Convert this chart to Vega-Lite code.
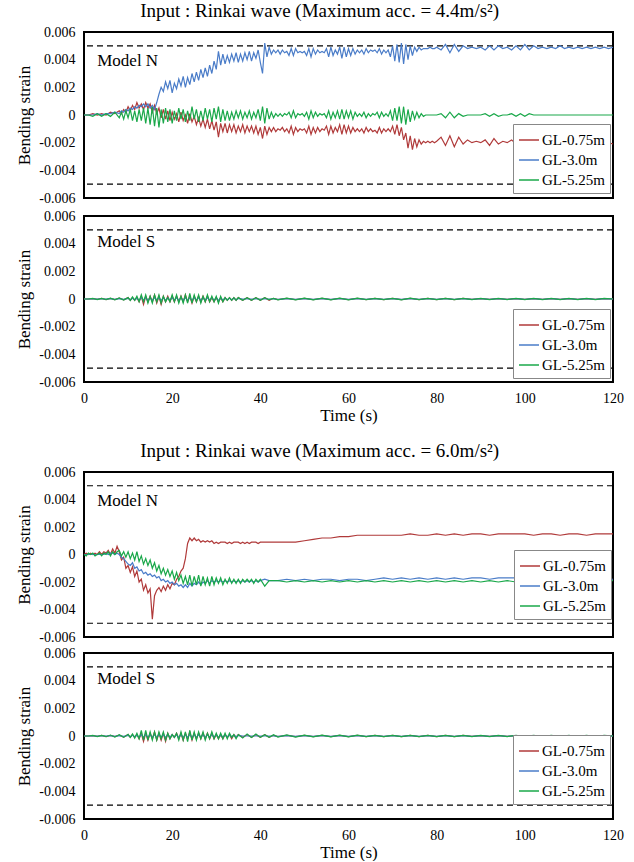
{
"$schema":"https://vega.github.io/schema/vega-lite/v6.json",
"padding":{"left":14,"top":2,"right":19,"bottom":0},
"background":"white",
"datasets":{
"p1":[
{"t":0,"a":0,"b":0,"c":0},{"t":1,"a":0,"b":0,"c":0},{"t":2,"a":0.0001,"b":0,"c":-0.0001},{"t":3,"a":0,"b":0.0001,"c":0.0001},{"t":4,"a":0.0001,"b":0,"c":-0.0001},{"t":5,"a":0,"b":0.0001,"c":0.0001},{"t":6,"a":0.0002,"b":0.0001,"c":-0.0001},{"t":7,"a":0.0001,"b":0.0002,"c":0.0002},{"t":8,"a":0.0003,"b":0.0001,"c":-0.0002},
{"t":8.5,"a":0.0001,"b":0.0003,"c":0.0002},{"t":9,"a":0.0004,"b":0.0002,"c":-0.0003},{"t":9.5,"a":0.0002,"b":0.0004,"c":0.0003},{"t":10,"a":0.0006,"b":0.0003,"c":-0.0002},{"t":10.5,"a":0.0003,"b":0.0005,"c":0.0004},{"t":11,"a":0.0007,"b":0.0004,"c":-0.0004},{"t":11.5,"a":0.0004,"b":0.0006,"c":0.0003},{"t":12,"a":0.0009,"b":0.0005,"c":-0.0005},{"t":12.5,"a":0.0005,"b":0.0007,"c":0.0004},{"t":13,"a":0.0008,"b":0.0006,"c":-0.0004},{"t":13.5,"a":0.0004,"b":0.0008,"c":0.0005},{"t":14,"a":0.0009,"b":0.0006,"c":-0.0006},{"t":14.5,"a":0.0005,"b":0.0008,"c":0.0005},{"t":15,"a":0.0008,"b":0.0005,"c":-0.0007},{"t":15.5,"a":0.0002,"b":0.0007,"c":0.0006},{"t":16,"a":0.0007,"b":0.0004,"c":-0.0008},{"t":16.5,"a":0.0001,"b":0.0009,"c":0.0005},{"t":17,"a":0.0005,"b":0.0015,"c":-0.0009},{"t":17.5,"a":-0.0002,"b":0.002,"c":0.0004},{"t":18,"a":0.0004,"b":0.0017,"c":-0.0006},{"t":18.5,"a":-0.0003,"b":0.0024,"c":0.0005},{"t":19,"a":0.0003,"b":0.0019,"c":-0.0005},{"t":19.5,"a":-0.0004,"b":0.0025,"c":0.0004},{"t":20,"a":0.0002,"b":0.0016,"c":-0.0006},{"t":20.5,"a":-0.0003,"b":0.0023,"c":0.0003},{"t":21,"a":0.0001,"b":0.0019,"c":-0.0004},{"t":21.5,"a":-0.0005,"b":0.0026,"c":0.0005},{"t":22,"a":0.0002,"b":0.0021,"c":-0.0003},{"t":22.5,"a":-0.0004,"b":0.0028,"c":0.0004},{"t":23,"a":0,"b":0.002,"c":-0.0005},{"t":23.5,"a":-0.0006,"b":0.0027,"c":0.0003},{"t":24,"a":0.0001,"b":0.0022,"c":-0.0004},{"t":24.5,"a":-0.0005,"b":0.003,"c":0.0006},{"t":25,"a":-0.0001,"b":0.0024,"c":-0.0003},{"t":25.5,"a":-0.0007,"b":0.0031,"c":0.0004},{"t":26,"a":-0.0002,"b":0.0025,"c":-0.0005},{"t":26.5,"a":-0.0008,"b":0.0033,"c":0.0003},{"t":27,"a":-0.0003,"b":0.0027,"c":-0.0004},{"t":27.5,"a":-0.0009,"b":0.0034,"c":0.0005},{"t":28,"a":-0.0003,"b":0.0028,"c":-0.0003},{"t":28.5,"a":-0.001,"b":0.0036,"c":0.0004},{"t":29,"a":-0.0004,"b":0.003,"c":-0.0005},{"t":29.5,"a":-0.0011,"b":0.0039,"c":0.0005},{"t":30,"a":-0.0005,"b":0.0033,"c":-0.0003},{"t":30.5,"a":-0.0016,"b":0.0046,"c":0.0006},{"t":31,"a":-0.0006,"b":0.0036,"c":-0.0005},{"t":31.5,"a":-0.0012,"b":0.0044,"c":0.0004},{"t":32,"a":-0.0006,"b":0.0037,"c":-0.0004},{"t":32.5,"a":-0.0013,"b":0.0043,"c":0.0003},{"t":33,"a":-0.0007,"b":0.0038,"c":-0.0004},{"t":33.5,"a":-0.0012,"b":0.0044,"c":0.0002},{"t":34,"a":-0.0007,"b":0.0039,"c":-0.0003},{"t":34.5,"a":-0.0013,"b":0.0045,"c":0.0003},{"t":35,"a":-0.0008,"b":0.0038,"c":-0.0002},{"t":35.5,"a":-0.0012,"b":0.0044,"c":0.0003},{"t":36,"a":-0.0007,"b":0.0039,"c":-0.0003},{"t":36.5,"a":-0.0013,"b":0.0045,"c":0.0002},{"t":37,"a":-0.0008,"b":0.004,"c":-0.0002},{"t":37.5,"a":-0.0012,"b":0.0046,"c":0.0003},{"t":38,"a":-0.0008,"b":0.0039,"c":-0.0003},{"t":38.5,"a":-0.0013,"b":0.0045,"c":0.0002},{"t":39,"a":-0.0008,"b":0.0041,"c":-0.0002},{"t":39.5,"a":-0.0014,"b":0.0047,"c":0.0004},{"t":40,"a":-0.0009,"b":0.0038,"c":-0.0004},{"t":40.5,"a":-0.0017,"b":0.003,"c":0.0006},{"t":41,"a":-0.0008,"b":0.0052,"c":-0.0006},{"t":41.5,"a":-0.0014,"b":0.0042,"c":0.0005},{"t":42,"a":-0.0009,"b":0.0049,"c":-0.0003},{"t":42.5,"a":-0.0012,"b":0.0044,"c":0.0002},{"t":43,"a":-0.0009,"b":0.0047,"c":-0.0002},{"t":43.5,"a":-0.0012,"b":0.0045,"c":0.0001},{"t":44,"a":-0.001,"b":0.0047,"c":-0.0001},{"t":44.5,"a":-0.0011,"b":0.0044,"c":0.0001},{"t":45,"a":-0.0009,"b":0.0047,"c":-0.0001},{"t":45.5,"a":-0.0012,"b":0.0045,"c":0.0001},{"t":46,"a":-0.001,"b":0.0046,"c":0},{"t":46.5,"a":-0.0013,"b":0.0043,"c":0.0002},{"t":47,"a":-0.0008,"b":0.0048,"c":-0.0002},{"t":47.5,"a":-0.0014,"b":0.0043,"c":0.0003},{"t":48,"a":-0.0009,"b":0.0048,"c":-0.0002},{"t":48.5,"a":-0.0012,"b":0.0045,"c":0.0001},{"t":49,"a":-0.001,"b":0.0046,"c":0},{"t":49.5,"a":-0.0011,"b":0.0045,"c":0.0001},{"t":50,"a":-0.001,"b":0.0046,"c":-0.0001},{"t":50.5,"a":-0.0013,"b":0.0043,"c":0.0002},{"t":51,"a":-0.0008,"b":0.0048,"c":-0.0003},{"t":51.5,"a":-0.0014,"b":0.0042,"c":0.0003},{"t":52,"a":-0.0009,"b":0.0048,"c":-0.0002},{"t":52.5,"a":-0.0013,"b":0.0044,"c":0.0002},{"t":53,"a":-0.0009,"b":0.0047,"c":-0.0001},{"t":53.5,"a":-0.0012,"b":0.0045,"c":0.0001},{"t":54,"a":-0.001,"b":0.0046,"c":0},{"t":54.5,"a":-0.0011,"b":0.0045,"c":0.0001},{"t":55,"a":-0.0008,"b":0.0048,"c":-0.0002},{"t":55.5,"a":-0.0014,"b":0.0042,"c":0.0003},{"t":56,"a":-0.0008,"b":0.0049,"c":-0.0003},{"t":56.5,"a":-0.0013,"b":0.0043,"c":0.0002},{"t":57,"a":-0.0009,"b":0.0047,"c":-0.0002},{"t":57.5,"a":-0.0012,"b":0.0044,"c":0.0003},{"t":58,"a":-0.0007,"b":0.0049,"c":-0.0003},{"t":58.5,"a":-0.0014,"b":0.0041,"c":0.0004},{"t":59,"a":-0.0007,"b":0.0049,"c":-0.0003},{"t":59.5,"a":-0.0013,"b":0.0042,"c":0.0003},{"t":60,"a":-0.0008,"b":0.0048,"c":-0.0002},{"t":60.5,"a":-0.0013,"b":0.0043,"c":0.0003},{"t":61,"a":-0.0009,"b":0.0048,"c":-0.0003},{"t":61.5,"a":-0.0012,"b":0.0044,"c":0.0002},{"t":62,"a":-0.001,"b":0.0047,"c":-0.0001},{"t":62.5,"a":-0.0012,"b":0.0045,"c":0.0001},{"t":63,"a":-0.001,"b":0.0047,"c":-0.0001},{"t":63.5,"a":-0.0013,"b":0.0044,"c":0.0002},{"t":64,"a":-0.0009,"b":0.0048,"c":-0.0002},{"t":64.5,"a":-0.0012,"b":0.0045,"c":0.0001},{"t":65,"a":-0.001,"b":0.0047,"c":-0.0001},{"t":65.5,"a":-0.0012,"b":0.0046,"c":0.0001},{"t":66,"a":-0.0011,"b":0.0047,"c":0},{"t":66.5,"a":-0.0013,"b":0.0045,"c":0.0002},{"t":67,"a":-0.0009,"b":0.0048,"c":-0.0002},{"t":67.5,"a":-0.0013,"b":0.0044,"c":0.0002},{"t":68,"a":-0.001,"b":0.0047,"c":-0.0001},{"t":68.5,"a":-0.0012,"b":0.0045,"c":0.0001},{"t":69,"a":-0.001,"b":0.0047,"c":-0.0001},{"t":69.5,"a":-0.0012,"b":0.0042,"c":0.0003},{"t":70,"a":-0.0008,"b":0.005,"c":-0.0004},{"t":70.5,"a":-0.0014,"b":0.0039,"c":0.0005},{"t":71,"a":-0.0007,"b":0.0051,"c":-0.0004},{"t":71.5,"a":-0.0015,"b":0.0038,"c":0.0006},{"t":72,"a":-0.0009,"b":0.0052,"c":-0.0006},{"t":72.5,"a":-0.0018,"b":0.0037,"c":0.0006},{"t":73,"a":-0.0013,"b":0.0051,"c":-0.0007},{"t":73.5,"a":-0.0024,"b":0.004,"c":0.0004},{"t":74,"a":-0.0015,"b":0.005,"c":-0.0005},{"t":74.5,"a":-0.0025,"b":0.0043,"c":0.0003},{"t":75,"a":-0.0017,"b":0.0049,"c":-0.0003},{"t":75.5,"a":-0.0023,"b":0.0046,"c":0.0002},{"t":76,"a":-0.0018,"b":0.0049,"c":-0.0002},{"t":76.5,"a":-0.0021,"b":0.0047,"c":0.0001},{"t":77,"a":-0.0019,"b":0.0048,"c":-0.0001},{"t":77.5,"a":-0.002,"b":0.0048,"c":0},{"t":78,"a":-0.0019,"b":0.0048,"c":0},{"t":78.5,"a":-0.002,"b":0.0049,"c":0},{"t":79,"a":-0.0019,"b":0.0048,"c":0},{"t":79.5,"a":-0.002,"b":0.0048,"c":0},{"t":80,"a":-0.0019,"b":0.0049,"c":0},
{"t":81,"a":-0.0016,"b":0.0047,"c":0.0001},{"t":82,"a":-0.0022,"b":0.0051,"c":-0.0002},{"t":83,"a":-0.0015,"b":0.0045,"c":0.0002},{"t":84,"a":-0.0023,"b":0.0051,"c":-0.0002},{"t":85,"a":-0.0016,"b":0.0046,"c":0.0001},{"t":86,"a":-0.0021,"b":0.005,"c":-0.0001},{"t":87,"a":-0.0018,"b":0.0048,"c":0},{"t":88,"a":-0.002,"b":0.0049,"c":0},{"t":89,"a":-0.0019,"b":0.0048,"c":0},{"t":90,"a":-0.002,"b":0.0049,"c":0},{"t":91,"a":-0.0018,"b":0.0047,"c":0.0001},{"t":92,"a":-0.0022,"b":0.005,"c":-0.0001},{"t":93,"a":-0.0017,"b":0.0047,"c":0.0001},{"t":94,"a":-0.0021,"b":0.005,"c":-0.0001},{"t":95,"a":-0.0019,"b":0.0048,"c":0},{"t":96,"a":-0.002,"b":0.0049,"c":0},{"t":97,"a":-0.0018,"b":0.0047,"c":0.0001},{"t":98,"a":-0.0021,"b":0.005,"c":-0.0001},{"t":99,"a":-0.0018,"b":0.0047,"c":0.0001},{"t":100,"a":-0.0021,"b":0.0051,"c":-0.0001},{"t":101,"a":-0.0018,"b":0.0047,"c":0.0001},{"t":102,"a":-0.0021,"b":0.005,"c":0},{"t":103,"a":-0.0019,"b":0.0048,"c":0},{"t":104,"a":-0.002,"b":0.0049,"c":0},{"t":105,"a":-0.0019,"b":0.0048,"c":0},{"t":106,"a":-0.0021,"b":0.0049,"c":0},{"t":107,"a":-0.0019,"b":0.0048,"c":0},{"t":108,"a":-0.002,"b":0.005,"c":0},{"t":109,"a":-0.0019,"b":0.0048,"c":0},{"t":110,"a":-0.0021,"b":0.0049,"c":0},{"t":111,"a":-0.0019,"b":0.0048,"c":0},{"t":112,"a":-0.002,"b":0.0049,"c":0},{"t":113,"a":-0.002,"b":0.0048,"c":0},{"t":114,"a":-0.0021,"b":0.0049,"c":0},{"t":115,"a":-0.002,"b":0.0048,"c":0},{"t":116,"a":-0.0021,"b":0.0049,"c":0},{"t":117,"a":-0.002,"b":0.0048,"c":0},{"t":118,"a":-0.0021,"b":0.0049,"c":0},{"t":119,"a":-0.002,"b":0.0048,"c":0},{"t":120,"a":-0.0021,"b":0.0049,"c":0}
],
"p2":[
{"t":0,"a":0,"b":0,"c":0},{"t":1,"a":0,"b":0,"c":0},{"t":2,"a":0.00003,"b":0,"c":0.00004},{"t":3,"a":-0.00003,"b":0,"c":-0.00004},{"t":4,"a":0.00004,"b":0,"c":0.00005},{"t":5,"a":-0.00004,"b":0,"c":-0.00005},{"t":6,"a":0.00005,"b":0.00002,"c":0.00006},{"t":7,"a":-0.00005,"b":-0.00002,"c":-0.00006},{"t":8,"a":0.00006,"b":0.00002,"c":0.00008},{"t":9,"a":-0.00006,"b":-0.00002,"c":-0.00008},
{"t":10,"a":0.0001,"b":0.00005,"c":0.0001},{"t":10.5,"a":-0.0001,"b":-0.00005,"c":-0.0001},{"t":11,"a":0.0001,"b":0.00005,"c":0.00015},{"t":11.5,"a":-0.0001,"b":-0.00005,"c":-0.0001},{"t":12,"a":0.0001,"b":0.00005,"c":0.0002},{"t":12.5,"a":-0.0002,"b":-0.0001,"c":-0.0002},{"t":13,"a":0.0002,"b":0.0001,"c":0.0003},{"t":13.5,"a":-0.0004,"b":-0.0001,"c":-0.0002},{"t":14,"a":0.0002,"b":0.0001,"c":0.0003},{"t":14.5,"a":-0.0002,"b":-0.0001,"c":-0.0003},{"t":15,"a":0.0002,"b":0.0001,"c":0.0002},{"t":15.5,"a":-0.0002,"b":-0.0001,"c":-0.0003},{"t":16,"a":0.0003,"b":0.0001,"c":0.0003},{"t":16.5,"a":-0.0003,"b":-0.0001,"c":-0.0002},{"t":17,"a":0.0002,"b":0.0001,"c":0.0003},{"t":17.5,"a":-0.0004,"b":-0.0001,"c":-0.0003},{"t":18,"a":0.0002,"b":0.0001,"c":0.0002},{"t":18.5,"a":-0.0002,"b":-0.0001,"c":-0.0002},{"t":19,"a":0.0002,"b":0.0001,"c":0.0001},{"t":19.5,"a":-0.0002,"b":-0.0001,"c":-0.0002},{"t":20,"a":0.0002,"b":0.0001,"c":0.0003},{"t":20.5,"a":-0.0002,"b":-0.0001,"c":-0.0002},{"t":21,"a":0.0002,"b":0.0001,"c":0.0003},{"t":21.5,"a":-0.0002,"b":-0.0001,"c":-0.0003},{"t":22,"a":0.0002,"b":0.0001,"c":0.0002},{"t":22.5,"a":-0.0002,"b":-0.0001,"c":-0.0003},{"t":23,"a":0.0003,"b":0.0001,"c":0.0003},{"t":23.5,"a":-0.0002,"b":-0.0001,"c":-0.0003},{"t":24,"a":0.0002,"b":0.0001,"c":0.0004},{"t":24.5,"a":-0.0003,"b":-0.0001,"c":-0.0003},{"t":25,"a":0.0002,"b":0.0001,"c":0.0003},{"t":25.5,"a":-0.0002,"b":-0.0001,"c":-0.0002},{"t":26,"a":0.0002,"b":0.0001,"c":0.0003},{"t":26.5,"a":-0.0002,"b":-0.0001,"c":-0.0003},{"t":27,"a":0.0002,"b":0.0001,"c":0.0002},{"t":27.5,"a":-0.0002,"b":-0.0001,"c":-0.0002},{"t":28,"a":0.0002,"b":0.0001,"c":0.0003},{"t":28.5,"a":-0.0002,"b":-0.0001,"c":-0.0002},{"t":29,"a":0.0001,"b":0.0001,"c":0.0002},{"t":29.5,"a":-0.0002,"b":-0.0001,"c":-0.0002},{"t":30,"a":0.0001,"b":0.0001,"c":0.0002},{"t":30.5,"a":-0.0002,"b":-0.0001,"c":-0.0003},{"t":31,"a":0.0001,"b":0.00005,"c":0.0002},{"t":31.5,"a":-0.0002,"b":-0.00005,"c":-0.0002},{"t":32,"a":0.0001,"b":0.00005,"c":0.0001},{"t":32.5,"a":-0.0001,"b":-0.00005,"c":-0.0001},{"t":33,"a":0.0001,"b":0.00005,"c":0.0001},{"t":33.5,"a":-0.0001,"b":-0.00005,"c":-0.0001},{"t":34,"a":0.0001,"b":0.00005,"c":0.0001},{"t":34.5,"a":-0.0001,"b":-0.00005,"c":-0.0001},{"t":35,"a":0.0001,"b":0.00005,"c":0.0001},
{"t":36,"a":-0.0001,"b":0,"c":-0.0001},{"t":37,"a":0.0001,"b":0,"c":0.0001},{"t":38,"a":-0.0001,"b":0,"c":-0.0001},{"t":39,"a":0.0001,"b":0,"c":0.0001},{"t":40,"a":-0.0001,"b":0,"c":-0.0001},{"t":41,"a":0.0001,"b":0,"c":0.0001},{"t":42,"a":-0.0001,"b":0,"c":-0.00005},{"t":43,"a":0.00005,"b":0,"c":0.00005},
{"t":44,"a":-0.00005,"b":-0.00002,"c":-0.00006},{"t":46,"a":0.00005,"b":0.00002,"c":0.00006},{"t":48,"a":-0.00005,"b":-0.00002,"c":-0.00006},{"t":50,"a":0.00005,"b":0.00002,"c":0.00006},{"t":52,"a":-0.00005,"b":-0.00002,"c":-0.00006},{"t":54,"a":0.00005,"b":0.00002,"c":0.00006},{"t":56,"a":-0.00005,"b":-0.00002,"c":-0.00006},{"t":58,"a":0.00005,"b":0.00002,"c":0.00006},{"t":60,"a":-0.00005,"b":-0.00002,"c":-0.00006},{"t":62,"a":0.00005,"b":0.00002,"c":0.00006},{"t":64,"a":-0.00004,"b":-0.00002,"c":-0.00005},{"t":66,"a":0.00004,"b":0.00002,"c":0.00005},{"t":68,"a":-0.00004,"b":-0.00002,"c":-0.00005},{"t":70,"a":0.00004,"b":0.00002,"c":0.00005},{"t":72,"a":-0.00005,"b":-0.00002,"c":-0.00006},{"t":74,"a":0.00005,"b":0.00002,"c":0.00006},{"t":76,"a":-0.00004,"b":-0.00002,"c":-0.00005},{"t":78,"a":0.00004,"b":0.00002,"c":0.00005},{"t":80,"a":-0.00004,"b":-0.00002,"c":-0.00005},{"t":82,"a":0.00004,"b":0.00002,"c":0.00005},{"t":84,"a":-0.00004,"b":-0.00002,"c":-0.00005},{"t":86,"a":0.00004,"b":0.00002,"c":0.00005},{"t":88,"a":-0.00003,"b":-0.00002,"c":-0.00004},{"t":90,"a":0.00003,"b":0.00002,"c":0.00004},{"t":92,"a":-0.00003,"b":-0.00002,"c":-0.00004},{"t":94,"a":0.00003,"b":0.00002,"c":0.00004},{"t":96,"a":-0.00003,"b":-0.00002,"c":-0.00004},{"t":98,"a":0.00003,"b":0.00002,"c":0.00004},{"t":100,"a":-0.00003,"b":-0.00002,"c":-0.00004},{"t":102,"a":0.00003,"b":0.00002,"c":0.00004},{"t":104,"a":-0.00003,"b":-0.00002,"c":-0.00004},{"t":106,"a":0.00003,"b":0.00002,"c":0.00004},{"t":108,"a":-0.00003,"b":-0.00002,"c":-0.00004},{"t":110,"a":0.00003,"b":0.00002,"c":0.00004},{"t":112,"a":-0.00003,"b":-0.00002,"c":-0.00004},{"t":114,"a":0.00003,"b":0.00002,"c":0.00004},{"t":116,"a":-0.00003,"b":-0.00002,"c":-0.00004},{"t":118,"a":0.00003,"b":0.00002,"c":0.00004},{"t":120,"a":0,"b":0,"c":0}
],
"p3":[
{"t":0,"a":0,"b":0,"c":0},{"t":0.5,"a":0.0001,"b":0,"c":-0.0001},{"t":1,"a":0,"b":0,"c":0.0001},{"t":1.5,"a":0.0001,"b":0,"c":0},{"t":2,"a":0,"b":0,"c":0.0001},{"t":2.5,"a":0.0001,"b":0,"c":-0.0001},{"t":3,"a":0,"b":0,"c":0},{"t":3.5,"a":0.0002,"b":0,"c":0.0001},{"t":4,"a":0,"b":0,"c":-0.0001},{"t":4.5,"a":0.0002,"b":0,"c":0.0001},{"t":5,"a":0.0001,"b":0.0001,"c":0},{"t":5.5,"a":0.0003,"b":0,"c":0.0002},{"t":6,"a":0,"b":0.0001,"c":-0.0001},{"t":6.5,"a":0.0004,"b":0.0001,"c":0.0002},{"t":7,"a":0.0001,"b":0,"c":0},{"t":7.5,"a":0.0006,"b":0.0001,"c":0.0002},{"t":8,"a":0.0002,"b":0,"c":0.0003},{"t":8.5,"a":-0.0004,"b":-0.0002,"c":-0.0001},{"t":9,"a":-0.0002,"b":-0.0003,"c":0.0002},{"t":9.5,"a":-0.001,"b":-0.0005,"c":-0.0002},{"t":10,"a":-0.0008,"b":-0.0007,"c":0.0002},{"t":10.5,"a":-0.0013,"b":-0.0008,"c":-0.0003},{"t":11,"a":-0.0009,"b":-0.0006,"c":0.0001},{"t":11.5,"a":-0.0016,"b":-0.001,"c":-0.0004},{"t":12,"a":-0.0012,"b":-0.0009,"c":0.0002},{"t":12.5,"a":-0.002,"b":-0.0012,"c":-0.0005},{"t":13,"a":-0.0018,"b":-0.0011,"c":-0.0001},{"t":13.5,"a":-0.0026,"b":-0.0014,"c":-0.0007},{"t":14,"a":-0.0022,"b":-0.0013,"c":-0.0003},{"t":14.5,"a":-0.0028,"b":-0.0015,"c":-0.0008},{"t":15,"a":-0.0025,"b":-0.0014,"c":-0.0004},{"t":15.5,"a":-0.0047,"b":-0.0016,"c":-0.001},{"t":16,"a":-0.003,"b":-0.0015,"c":-0.0006},{"t":16.5,"a":-0.0026,"b":-0.0017,"c":-0.0012},{"t":17,"a":-0.0024,"b":-0.0016,"c":-0.0008},{"t":17.5,"a":-0.0027,"b":-0.0019,"c":-0.0014},{"t":18,"a":-0.0023,"b":-0.0018,"c":-0.001},{"t":18.5,"a":-0.0026,"b":-0.002,"c":-0.0015},{"t":19,"a":-0.0022,"b":-0.0019,"c":-0.0011},{"t":19.5,"a":-0.0025,"b":-0.0021,"c":-0.0016},{"t":20,"a":-0.0021,"b":-0.002,"c":-0.0012},{"t":20.5,"a":-0.0022,"b":-0.0022,"c":-0.0018},{"t":21,"a":-0.0018,"b":-0.0021,"c":-0.0013},{"t":21.5,"a":-0.0016,"b":-0.0023,"c":-0.0019},{"t":22,"a":-0.0012,"b":-0.0022,"c":-0.0015},{"t":22.5,"a":-0.001,"b":-0.0024,"c":-0.0021},{"t":23,"a":-0.0003,"b":-0.0022,"c":-0.0016},{"t":23.5,"a":0.0008,"b":-0.0024,"c":-0.0022},{"t":24,"a":0.0012,"b":-0.0021,"c":-0.0015},{"t":24.5,"a":0.001,"b":-0.0023,"c":-0.0023},{"t":25,"a":0.0012,"b":-0.0021,"c":-0.0016},{"t":25.5,"a":0.001,"b":-0.0022,"c":-0.0022},{"t":26,"a":0.0011,"b":-0.002,"c":-0.0015},{"t":26.5,"a":0.0009,"b":-0.0022,"c":-0.0023},{"t":27,"a":0.001,"b":-0.002,"c":-0.0016},{"t":27.5,"a":0.0009,"b":-0.0021,"c":-0.0022},{"t":28,"a":0.001,"b":-0.0019,"c":-0.0017},{"t":28.5,"a":0.0009,"b":-0.0021,"c":-0.0023},{"t":29,"a":0.001,"b":-0.0019,"c":-0.0016},{"t":29.5,"a":0.0008,"b":-0.002,"c":-0.0022},{"t":30,"a":0.0009,"b":-0.0019,"c":-0.0017},{"t":30.5,"a":0.0008,"b":-0.002,"c":-0.0021},{"t":31,"a":0.0009,"b":-0.0019,"c":-0.0017},{"t":31.5,"a":0.0009,"b":-0.002,"c":-0.0022},{"t":32,"a":0.0009,"b":-0.0019,"c":-0.0018},{"t":32.5,"a":0.0008,"b":-0.002,"c":-0.0021},{"t":33,"a":0.0009,"b":-0.0019,"c":-0.0017},{"t":33.5,"a":0.0008,"b":-0.002,"c":-0.0021},{"t":34,"a":0.0009,"b":-0.0019,"c":-0.0018},{"t":34.5,"a":0.0009,"b":-0.002,"c":-0.0021},{"t":35,"a":0.0009,"b":-0.0019,"c":-0.0018},{"t":35.5,"a":0.0008,"b":-0.002,"c":-0.0021},{"t":36,"a":0.0009,"b":-0.0019,"c":-0.0018},{"t":36.5,"a":0.0008,"b":-0.002,"c":-0.002},{"t":37,"a":0.0009,"b":-0.0019,"c":-0.0018},{"t":37.5,"a":0.0008,"b":-0.002,"c":-0.002},{"t":38,"a":0.0009,"b":-0.0019,"c":-0.0018},{"t":38.5,"a":0.0009,"b":-0.002,"c":-0.0021},{"t":39,"a":0.0009,"b":-0.0019,"c":-0.0018},{"t":39.5,"a":0.0008,"b":-0.002,"c":-0.002},{"t":40,"a":0.0009,"b":-0.0019,"c":-0.0018},
{"t":41,"a":0.0009,"b":-0.0018,"c":-0.0023},{"t":42,"a":0.0009,"b":-0.0019,"c":-0.0019},{"t":44,"a":0.0009,"b":-0.0019,"c":-0.0019},{"t":46,"a":0.0009,"b":-0.0018,"c":-0.002},{"t":48,"a":0.0009,"b":-0.0019,"c":-0.0019},{"t":50,"a":0.001,"b":-0.0018,"c":-0.002},{"t":52,"a":0.0011,"b":-0.0019,"c":-0.0019},{"t":54,"a":0.0012,"b":-0.0018,"c":-0.002},{"t":56,"a":0.0012,"b":-0.0018,"c":-0.0019},{"t":58,"a":0.0013,"b":-0.0019,"c":-0.002},{"t":60,"a":0.0013,"b":-0.0018,"c":-0.0019},{"t":62,"a":0.0014,"b":-0.0018,"c":-0.002},{"t":64,"a":0.0014,"b":-0.0019,"c":-0.0019},{"t":66,"a":0.0014,"b":-0.0018,"c":-0.002},{"t":68,"a":0.0014,"b":-0.0017,"c":-0.0019},{"t":70,"a":0.0014,"b":-0.0018,"c":-0.002},{"t":72,"a":0.0014,"b":-0.0017,"c":-0.0019},{"t":74,"a":0.0015,"b":-0.0018,"c":-0.002},{"t":76,"a":0.0014,"b":-0.0017,"c":-0.0019},{"t":78,"a":0.0014,"b":-0.0018,"c":-0.002},{"t":80,"a":0.0015,"b":-0.0017,"c":-0.0019},{"t":82,"a":0.0014,"b":-0.0018,"c":-0.002},{"t":84,"a":0.0015,"b":-0.0017,"c":-0.0019},{"t":86,"a":0.0014,"b":-0.0018,"c":-0.002},{"t":88,"a":0.0015,"b":-0.0017,"c":-0.0019},{"t":90,"a":0.0015,"b":-0.0017,"c":-0.002},{"t":92,"a":0.0014,"b":-0.0018,"c":-0.0019},{"t":94,"a":0.0015,"b":-0.0017,"c":-0.002},{"t":96,"a":0.0015,"b":-0.0017,"c":-0.0019},{"t":98,"a":0.0015,"b":-0.0017,"c":-0.002},{"t":100,"a":0.0015,"b":-0.0017,"c":-0.0019},{"t":102,"a":0.0014,"b":-0.0018,"c":-0.002},{"t":104,"a":0.0015,"b":-0.0017,"c":-0.0019},{"t":106,"a":0.0015,"b":-0.0018,"c":-0.002},{"t":108,"a":0.0014,"b":-0.0017,"c":-0.0019},{"t":110,"a":0.0015,"b":-0.0018,"c":-0.002},{"t":112,"a":0.0015,"b":-0.0017,"c":-0.0019},{"t":114,"a":0.0014,"b":-0.0018,"c":-0.002},{"t":116,"a":0.0015,"b":-0.0017,"c":-0.0019},{"t":118,"a":0.0015,"b":-0.0018,"c":-0.0019},{"t":120,"a":0.0015,"b":-0.0018,"c":-0.0019}
],
"p4":[
{"t":0,"a":0,"b":0,"c":0},{"t":1,"a":0,"b":0,"c":0},{"t":2,"a":0.00003,"b":0,"c":0.00004},{"t":3,"a":-0.00003,"b":0,"c":-0.00004},{"t":4,"a":0.00004,"b":0,"c":0.00005},{"t":5,"a":-0.00004,"b":0,"c":-0.00005},{"t":6,"a":0.00005,"b":0.00002,"c":0.00007},{"t":7,"a":-0.00005,"b":-0.00002,"c":-0.00007},{"t":8,"a":0.00006,"b":0.00002,"c":0.00009},{"t":9,"a":-0.00008,"b":-0.00002,"c":-0.0001},
{"t":10,"a":0.0001,"b":0.00005,"c":0.00012},{"t":10.5,"a":-0.0001,"b":-0.00005,"c":-0.0001},{"t":11,"a":0.0001,"b":0.00005,"c":0.00015},{"t":11.5,"a":-0.0001,"b":-0.00005,"c":-0.00015},{"t":12,"a":0.0001,"b":0.00005,"c":0.0002},{"t":12.5,"a":-0.0002,"b":-0.0001,"c":-0.0002},{"t":13,"a":0.0002,"b":0.0001,"c":0.0004},{"t":13.5,"a":-0.0004,"b":-0.0001,"c":-0.0003},{"t":14,"a":0.0002,"b":0.0001,"c":0.0004},{"t":14.5,"a":-0.0003,"b":-0.0001,"c":-0.0003},{"t":15,"a":0.0002,"b":0.0001,"c":0.0003},{"t":15.5,"a":-0.0002,"b":-0.0001,"c":-0.0003},{"t":16,"a":0.0003,"b":0.0001,"c":0.0003},{"t":16.5,"a":-0.0003,"b":-0.0001,"c":-0.0003},{"t":17,"a":0.0002,"b":0.0001,"c":0.0003},{"t":17.5,"a":-0.0003,"b":-0.0001,"c":-0.0002},{"t":18,"a":0.0002,"b":0.0001,"c":0.0003},{"t":18.5,"a":-0.0004,"b":-0.0001,"c":-0.0003},{"t":19,"a":0.0002,"b":0.0001,"c":0.0002},{"t":19.5,"a":-0.0002,"b":-0.0001,"c":-0.0002},{"t":20,"a":0.0001,"b":0.0001,"c":0.0001},{"t":20.5,"a":-0.0001,"b":-0.0001,"c":-0.0001},{"t":21,"a":0.0002,"b":0.0001,"c":0.0002},{"t":21.5,"a":-0.0002,"b":-0.0001,"c":-0.0003},{"t":22,"a":0.0002,"b":0.0001,"c":0.0003},{"t":22.5,"a":-0.0003,"b":-0.0001,"c":-0.0003},{"t":23,"a":0.0002,"b":0.0001,"c":0.0003},{"t":23.5,"a":-0.0002,"b":-0.0001,"c":-0.0004},{"t":24,"a":0.0003,"b":0.0001,"c":0.0004},{"t":24.5,"a":-0.0003,"b":-0.0001,"c":-0.0003},{"t":25,"a":0.0002,"b":0.0001,"c":0.0003},{"t":25.5,"a":-0.0002,"b":-0.0001,"c":-0.0003},{"t":26,"a":0.0002,"b":0.0001,"c":0.0003},{"t":26.5,"a":-0.0002,"b":-0.0001,"c":-0.0002},{"t":27,"a":0.0002,"b":0.0001,"c":0.0003},{"t":27.5,"a":-0.0002,"b":-0.0001,"c":-0.0003},{"t":28,"a":0.0002,"b":0.0001,"c":0.0002},{"t":28.5,"a":-0.0002,"b":-0.0001,"c":-0.0002},{"t":29,"a":0.0002,"b":0.0001,"c":0.0003},{"t":29.5,"a":-0.0002,"b":-0.0001,"c":-0.0002},{"t":30,"a":0.0001,"b":0.0001,"c":0.0002},{"t":30.5,"a":-0.0002,"b":-0.0001,"c":-0.0002},{"t":31,"a":0.0001,"b":0.00005,"c":0.0002},{"t":31.5,"a":-0.0002,"b":-0.00005,"c":-0.0002},{"t":32,"a":0.0001,"b":0.00005,"c":0.0002},{"t":32.5,"a":-0.0001,"b":-0.00005,"c":-0.0002},{"t":33,"a":0.0001,"b":0.00005,"c":0.0002},{"t":33.5,"a":-0.0002,"b":-0.00005,"c":-0.0001},{"t":34,"a":0.0001,"b":0.00005,"c":0.0001},{"t":34.5,"a":-0.0001,"b":-0.00005,"c":-0.0002},{"t":35,"a":0.0001,"b":0.00005,"c":0.0001},
{"t":36,"a":-0.0001,"b":0,"c":-0.00015},{"t":37,"a":0.0001,"b":0,"c":0.00015},{"t":38,"a":-0.0001,"b":0,"c":-0.0001},{"t":39,"a":0.0001,"b":0,"c":0.00015},{"t":40,"a":-0.0001,"b":0,"c":-0.0001},{"t":41,"a":0.0001,"b":0,"c":0.0001},{"t":42,"a":-0.0001,"b":0,"c":-0.0001},{"t":43,"a":0.00005,"b":0,"c":0.0001},
{"t":44,"a":-0.00005,"b":-0.00002,"c":-0.00008},{"t":46,"a":0.00005,"b":0.00002,"c":0.00008},{"t":48,"a":-0.00005,"b":-0.00002,"c":-0.00008},{"t":50,"a":0.00005,"b":0.00002,"c":0.00006},{"t":52,"a":-0.00005,"b":-0.00002,"c":-0.00006},{"t":54,"a":0.00005,"b":0.00002,"c":0.00006},{"t":56,"a":-0.00005,"b":-0.00002,"c":-0.00006},{"t":58,"a":0.00005,"b":0.00002,"c":0.00006},{"t":60,"a":-0.00005,"b":-0.00002,"c":-0.00006},{"t":62,"a":0.00005,"b":0.00002,"c":0.00006},{"t":64,"a":-0.00004,"b":-0.00002,"c":-0.00005},{"t":66,"a":0.00004,"b":0.00002,"c":0.00005},{"t":68,"a":-0.00004,"b":-0.00002,"c":-0.00005},{"t":70,"a":0.00004,"b":0.00002,"c":0.00005},{"t":72,"a":-0.00004,"b":-0.00002,"c":-0.00005},{"t":74,"a":0.00004,"b":0.00002,"c":0.00005},{"t":76,"a":-0.00004,"b":-0.00002,"c":-0.00005},{"t":78,"a":0.00004,"b":0.00002,"c":0.00005},{"t":80,"a":-0.00004,"b":-0.00002,"c":-0.00005},{"t":82,"a":0.00004,"b":0.00002,"c":0.00005},{"t":84,"a":-0.00004,"b":-0.00002,"c":-0.00005},{"t":86,"a":0.00004,"b":0.00002,"c":0.00005},{"t":88,"a":-0.00003,"b":-0.00002,"c":-0.00004},{"t":90,"a":0.00003,"b":0.00002,"c":0.00004},{"t":92,"a":-0.00003,"b":-0.00002,"c":-0.00004},{"t":94,"a":0.00003,"b":0.00002,"c":0.00004},{"t":96,"a":-0.00003,"b":-0.00002,"c":-0.00004},{"t":98,"a":0.00003,"b":0.00002,"c":0.00004},{"t":100,"a":-0.00003,"b":-0.00002,"c":-0.00004},{"t":102,"a":0.00003,"b":0.00002,"c":0.00004},{"t":104,"a":-0.00003,"b":-0.00002,"c":-0.00004},{"t":106,"a":0.00003,"b":0.00002,"c":0.00004},{"t":108,"a":-0.00003,"b":-0.00002,"c":-0.00004},{"t":110,"a":0.00003,"b":0.00002,"c":0.00004},{"t":112,"a":-0.00003,"b":-0.00002,"c":-0.00004},{"t":114,"a":0.00003,"b":0.00002,"c":0.00004},{"t":116,"a":-0.00003,"b":-0.00002,"c":-0.00004},{"t":118,"a":0.00003,"b":0.00002,"c":0.00004},{"t":120,"a":0,"b":0,"c":0}
],
"lim":[{"v":0.005},{"v":-0.005}]
},
"vconcat":[
{"title":{"text":"Input : Rinkai wave (Maximum acc. = 4.4m/s²)","anchor":"middle","offset":3,"font":"Liberation Serif","fontSize":19,"fontWeight":"normal","color":"#000"},
 "spacing":2,
 "resolve":{"legend":{"color":"independent"}},
 "vconcat":[
 {"width":529,"height":166,
  "layer":[
   {"data":{"values":[{}]},"mark":{"type":"text","align":"left","baseline":"middle","fontSize":17,"font":"Liberation Serif"},"encoding":{
     "x":{"datum":3,"type":"quantitative","scale":{"domain":[0,120],"nice":false},"axis":{"values":[20,40,60,80,100],"labels":false,"title":null,"gridColor":{"condition":{"test":"datum.value===60||datum.value===100","value":"#222"},"value":"#c8c8c8"}}},
     "y":{"datum":0.0039,"type":"quantitative","scale":{"domain":[-0.006,0.006],"nice":false},"axis":{"title":"Bending strain","labelOverlap":false,"values":[-0.006,-0.004,-0.002,0,0.002,0.004,0.006],"labelExpr":"datum.value==0?'0':(datum.value<0?'-':'')+format(abs(datum.value),'.3f')","gridColor":{"condition":{"test":"abs(datum.value-0.004)<0.0001","value":"#222"},"value":"#c8c8c8"}}},
     "text":{"value":"Model N"}}},
   {"data":{"name":"lim"},"mark":{"type":"rule","strokeDash":[6,4],"color":"#000","strokeWidth":1.2},"encoding":{
     "y":{"field":"v","type":"quantitative","scale":{"domain":[-0.006,0.006],"nice":false},"axis":{"title":"Bending strain","labelOverlap":false,"values":[-0.006,-0.004,-0.002,0,0.002,0.004,0.006],"labelExpr":"datum.value==0?'0':(datum.value<0?'-':'')+format(abs(datum.value),'.3f')","gridColor":{"condition":{"test":"abs(datum.value-0.004)<0.0001","value":"#222"},"value":"#c8c8c8"}}}}},
   {"data":{"name":"p1"},"transform":[{"fold":["a","b","c"],"as":["k","v"]}],
    "mark":{"type":"line","strokeWidth":1.2},
    "encoding":{
     "x":{"field":"t","type":"quantitative","scale":{"domain":[0,120],"nice":false},"axis":{"values":[20,40,60,80,100],"labels":false,"title":null,"gridColor":{"condition":{"test":"datum.value===60||datum.value===100","value":"#222"},"value":"#c8c8c8"}}},
     "y":{"field":"v","type":"quantitative","scale":{"domain":[-0.006,0.006],"nice":false},"axis":{"title":"Bending strain","labelOverlap":false,"values":[-0.006,-0.004,-0.002,0,0.002,0.004,0.006],"labelExpr":"datum.value==0?'0':(datum.value<0?'-':'')+format(abs(datum.value),'.3f')","gridColor":{"condition":{"test":"abs(datum.value-0.004)<0.0001","value":"#222"},"value":"#c8c8c8"}}},
     "color":{"field":"k","type":"nominal","scale":{"domain":["a","b","c"],"range":["#b03a3a","#4a7cc8","#1aa84a"]},"legend":{"legendX":429,"legendY":92,"labelExpr":"datum.label=='a'?'GL-0.75m':datum.label=='b'?'GL-3.0m':'GL-5.25m'"}}
    }}
  ]},
 {"width":529,"height":166,
  "layer":[
   {"data":{"values":[{}]},"mark":{"type":"text","align":"left","baseline":"middle","fontSize":17,"font":"Liberation Serif"},"encoding":{
     "x":{"datum":3,"type":"quantitative","scale":{"domain":[0,120],"nice":false},"axis":{"values":[0,20,40,60,80,100,120],"title":"Time (s)","labelOverlap":false,"labelFlush":false,"labelPadding":9,"titlePadding":2,"gridColor":{"condition":{"test":"datum.value===20","value":"#222"},"value":"#c8c8c8"}}},
     "y":{"datum":0.0041,"type":"quantitative","scale":{"domain":[-0.006,0.006],"nice":false},"axis":{"title":"Bending strain","labelOverlap":false,"values":[-0.006,-0.004,-0.002,0,0.002,0.004,0.006],"labelExpr":"datum.value==0?'0':(datum.value<0?'-':'')+format(abs(datum.value),'.3f')","gridColor":{"condition":{"test":"datum.value>0.001&&datum.value<0.005","value":"#666"},"value":"#c8c8c8"}}},
     "text":{"value":"Model S"}}},
   {"data":{"name":"lim"},"mark":{"type":"rule","strokeDash":[6,4],"color":"#000","strokeWidth":1.2},"encoding":{
     "y":{"field":"v","type":"quantitative","scale":{"domain":[-0.006,0.006],"nice":false},"axis":{"title":"Bending strain","labelOverlap":false,"values":[-0.006,-0.004,-0.002,0,0.002,0.004,0.006],"labelExpr":"datum.value==0?'0':(datum.value<0?'-':'')+format(abs(datum.value),'.3f')","gridColor":{"condition":{"test":"datum.value>0.001&&datum.value<0.005","value":"#666"},"value":"#c8c8c8"}}}}},
   {"data":{"name":"p2"},"transform":[{"fold":["a","b","c"],"as":["k","v"]}],
    "mark":{"type":"line","strokeWidth":1.2},
    "encoding":{
     "x":{"field":"t","type":"quantitative","scale":{"domain":[0,120],"nice":false},"axis":{"values":[0,20,40,60,80,100,120],"title":"Time (s)","labelOverlap":false,"labelFlush":false,"labelPadding":9,"titlePadding":2,"gridColor":{"condition":{"test":"datum.value===20","value":"#222"},"value":"#c8c8c8"}}},
     "y":{"field":"v","type":"quantitative","scale":{"domain":[-0.006,0.006],"nice":false},"axis":{"title":"Bending strain","labelOverlap":false,"values":[-0.006,-0.004,-0.002,0,0.002,0.004,0.006],"labelExpr":"datum.value==0?'0':(datum.value<0?'-':'')+format(abs(datum.value),'.3f')","gridColor":{"condition":{"test":"datum.value>0.001&&datum.value<0.005","value":"#666"},"value":"#c8c8c8"}}},
     "color":{"field":"k","type":"nominal","scale":{"domain":["a","b","c"],"range":["#b03a3a","#4a7cc8","#1aa84a"]},"legend":{"legendX":429,"legendY":93,"labelExpr":"datum.label=='a'?'GL-0.75m':datum.label=='b'?'GL-3.0m':'GL-5.25m'"}}
    }}
  ]}
 ]},
{"title":{"text":"Input : Rinkai wave (Maximum acc. = 6.0m/s²)","anchor":"middle","offset":3,"font":"Liberation Serif","fontSize":19,"fontWeight":"normal","color":"#000"},
 "spacing":0,
 "resolve":{"legend":{"color":"independent"}},
 "vconcat":[
 {"width":529,"height":165,
  "layer":[
   {"data":{"values":[{}]},"mark":{"type":"text","align":"left","baseline":"middle","fontSize":17,"font":"Liberation Serif"},"encoding":{
     "x":{"datum":3,"type":"quantitative","scale":{"domain":[0,120],"nice":false},"axis":{"values":[20,40,60,80,100],"labels":false,"title":null,"gridColor":{"condition":{"test":"datum.value===60||datum.value===100","value":"#222"},"value":"#c8c8c8"}}},
     "y":{"datum":0.0039,"type":"quantitative","scale":{"domain":[-0.006,0.006],"nice":false},"axis":{"title":"Bending strain","labelOverlap":false,"values":[-0.006,-0.004,-0.002,0,0.002,0.004,0.006],"labelExpr":"datum.value==0?'0':(datum.value<0?'-':'')+format(abs(datum.value),'.3f')","gridColor":{"condition":{"test":"abs(datum.value+0.004)<0.0001","value":"#333"},"value":"#c8c8c8"}}},
     "text":{"value":"Model N"}}},
   {"data":{"name":"lim"},"mark":{"type":"rule","strokeDash":[6,4],"color":"#000","strokeWidth":1.2},"encoding":{
     "y":{"field":"v","type":"quantitative","scale":{"domain":[-0.006,0.006],"nice":false},"axis":{"title":"Bending strain","labelOverlap":false,"values":[-0.006,-0.004,-0.002,0,0.002,0.004,0.006],"labelExpr":"datum.value==0?'0':(datum.value<0?'-':'')+format(abs(datum.value),'.3f')","gridColor":{"condition":{"test":"abs(datum.value+0.004)<0.0001","value":"#333"},"value":"#c8c8c8"}}}}},
   {"data":{"name":"p3"},"transform":[{"fold":["a","b","c"],"as":["k","v"]}],
    "mark":{"type":"line","strokeWidth":1.2},
    "encoding":{
     "x":{"field":"t","type":"quantitative","scale":{"domain":[0,120],"nice":false},"axis":{"values":[20,40,60,80,100],"labels":false,"title":null,"gridColor":{"condition":{"test":"datum.value===60||datum.value===100","value":"#222"},"value":"#c8c8c8"}}},
     "y":{"field":"v","type":"quantitative","scale":{"domain":[-0.006,0.006],"nice":false},"axis":{"title":"Bending strain","labelOverlap":false,"values":[-0.006,-0.004,-0.002,0,0.002,0.004,0.006],"labelExpr":"datum.value==0?'0':(datum.value<0?'-':'')+format(abs(datum.value),'.3f')","gridColor":{"condition":{"test":"abs(datum.value+0.004)<0.0001","value":"#333"},"value":"#c8c8c8"}}},
     "color":{"field":"k","type":"nominal","scale":{"domain":["a","b","c"],"range":["#b03a3a","#4a7cc8","#1aa84a"]},"legend":{"legendX":430,"legendY":78,"labelExpr":"datum.label=='a'?'GL-0.75m':datum.label=='b'?'GL-3.0m':'GL-5.25m'"}}
    }}
  ]},
 {"width":529,"height":166,
  "layer":[
   {"data":{"values":[{}]},"mark":{"type":"text","align":"left","baseline":"middle","fontSize":17,"font":"Liberation Serif"},"encoding":{
     "x":{"datum":3,"type":"quantitative","scale":{"domain":[0,120],"nice":false},"axis":{"values":[0,20,40,60,80,100,120],"title":"Time (s)","labelOverlap":false,"labelFlush":false,"labelPadding":9,"titlePadding":2,"gridColor":{"condition":{"test":"datum.value===20","value":"#222"},"value":"#c8c8c8"}}},
     "y":{"datum":0.0041,"type":"quantitative","scale":{"domain":[-0.006,0.006],"nice":false},"axis":{"title":"Bending strain","labelOverlap":false,"values":[-0.006,-0.004,-0.002,0,0.002,0.004,0.006],"labelExpr":"datum.value==0?'0':(datum.value<0?'-':'')+format(abs(datum.value),'.3f')","gridColor":{"condition":{"test":"abs(datum.value+0.002)<0.0001","value":"#222"},"value":"#c8c8c8"}}},
     "text":{"value":"Model S"}}},
   {"data":{"name":"lim"},"mark":{"type":"rule","strokeDash":[6,4],"color":"#000","strokeWidth":1.2},"encoding":{
     "y":{"field":"v","type":"quantitative","scale":{"domain":[-0.006,0.006],"nice":false},"axis":{"title":"Bending strain","labelOverlap":false,"values":[-0.006,-0.004,-0.002,0,0.002,0.004,0.006],"labelExpr":"datum.value==0?'0':(datum.value<0?'-':'')+format(abs(datum.value),'.3f')","gridColor":{"condition":{"test":"abs(datum.value+0.002)<0.0001","value":"#222"},"value":"#c8c8c8"}}}}},
   {"data":{"name":"p4"},"transform":[{"fold":["a","b","c"],"as":["k","v"]}],
    "mark":{"type":"line","strokeWidth":1.2},
    "encoding":{
     "x":{"field":"t","type":"quantitative","scale":{"domain":[0,120],"nice":false},"axis":{"values":[0,20,40,60,80,100,120],"title":"Time (s)","labelOverlap":false,"labelFlush":false,"labelPadding":9,"titlePadding":2,"gridColor":{"condition":{"test":"datum.value===20","value":"#222"},"value":"#c8c8c8"}}},
     "y":{"field":"v","type":"quantitative","scale":{"domain":[-0.006,0.006],"nice":false},"axis":{"title":"Bending strain","labelOverlap":false,"values":[-0.006,-0.004,-0.002,0,0.002,0.004,0.006],"labelExpr":"datum.value==0?'0':(datum.value<0?'-':'')+format(abs(datum.value),'.3f')","gridColor":{"condition":{"test":"abs(datum.value+0.002)<0.0001","value":"#222"},"value":"#c8c8c8"}}},
     "color":{"field":"k","type":"nominal","scale":{"domain":["a","b","c"],"range":["#b03a3a","#4a7cc8","#1aa84a"]},"legend":{"legendX":429,"legendY":82,"labelExpr":"datum.label=='a'?'GL-0.75m':datum.label=='b'?'GL-3.0m':'GL-5.25m'"}}
    }}
  ]}
 ]}
],
"spacing":18,
"resolve":{"legend":{"color":"independent"}},
"config":{
 "font":"Liberation Serif",
 "view":{"stroke":"#000","strokeWidth":2},
 "axis":{"labelFont":"Liberation Serif","titleFont":"Liberation Serif","labelFontSize":14,"titleFontSize":17,"titleFontWeight":"normal","labelColor":"#000","titleColor":"#000","ticks":false,"domain":false,"gridWidth":1,"labelPadding":9,"titlePadding":5,"labelOverlap":false},
 "legend":{"orient":"none","title":null,"fillColor":"white","strokeColor":"#888","padding":5,"labelFont":"Liberation Serif","labelFontSize":15,"labelColor":"#000","symbolType":"stroke","symbolSize":400,"symbolStrokeWidth":1.5,"rowPadding":1,"labelOffset":2},
 "title":{"font":"Liberation Serif","fontSize":19,"fontWeight":"normal","color":"#000"}
}
}
